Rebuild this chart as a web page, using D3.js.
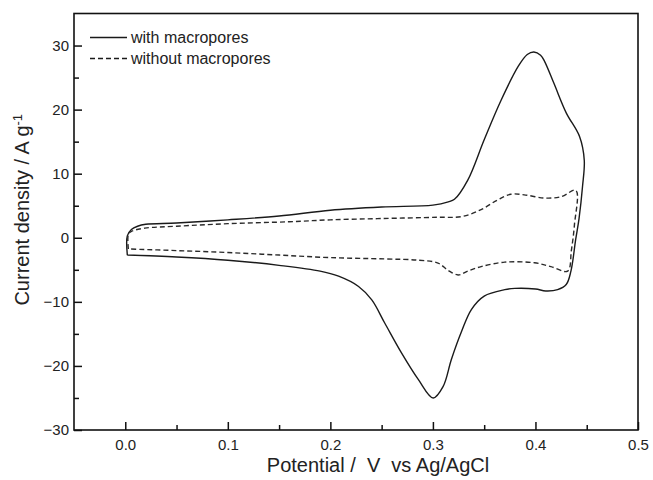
<!DOCTYPE html>
<html>
<head>
<meta charset="utf-8">
<script src="https://cdn.jsdelivr.net/npm/d3@7"></script>
<style>
  body { margin: 0; background: #fff; }
  svg { display: block; font-family: Arial, "Liberation Sans", sans-serif; }
  .axis path, .axis line { stroke: #111; }
  .axis text { font-size: 15px; fill: #222; }
  .title { white-space: pre; }
</style>
</head>
<body>
<div id="chart"></div>
<script>
// potential (V) and current density (A/g), one loop each
var withV = [0.002, 0.002, 0.006, 0.012, 0.02, 0.05, 0.1, 0.15, 0.2, 0.25, 0.3, 0.315, 0.321, 0.334, 0.35, 0.3666, 0.383, 0.392, 0.3985, 0.405, 0.409, 0.418, 0.43, 0.443, 0.4476,
             0.4459, 0.4425, 0.4392, 0.4346, 0.43, 0.4216, 0.41, 0.4, 0.38, 0.37, 0.35, 0.3375, 0.328, 0.318, 0.31, 0.3003, 0.2857, 0.2695, 0.253, 0.2404, 0.2275, 0.208, 0.19, 0.15, 0.1, 0.05, 0.002];
var withI = [-2.7, 0.3, 1.3, 1.8, 2.1, 2.3, 2.8, 3.4, 4.3, 4.8, 5.1, 5.6, 6.0, 9.0, 15.3, 21.5, 26.7, 28.6, 29.0, 28.5, 27.5, 24.1, 19.5, 15.8, 12.1,
             8, 3, -0.3, -5.2, -7.3, -8.1, -8.3, -8.0, -7.9, -8.1, -9.1, -11.2, -14.6, -19, -23.2, -25.0, -22.1, -18.0, -13.3, -9.7, -7.6, -6.0, -5.2, -4.3, -3.5, -3.0, -2.7];

var withoutV = [0.003, 0.003, 0.006, 0.019, 0.05, 0.1, 0.16, 0.2, 0.25, 0.305, 0.328, 0.347, 0.363, 0.376, 0.389, 0.409, 0.425, 0.4394,
                0.438, 0.435, 0.4314, 0.415, 0.399, 0.37, 0.347, 0.334, 0.3245, 0.315, 0.305, 0.286, 0.253, 0.2, 0.15, 0.1, 0.05, 0.003];
var withoutI = [-1.75, 0.5, 1.0, 1.5, 1.8, 2.2, 2.5, 2.8, 3.0, 3.2, 3.3, 4.4, 5.9, 6.8, 6.7, 6.2, 6.4, 7.4,
                2, -2, -5.2, -4.5, -3.9, -3.8, -4.5, -5.2, -5.8, -5.1, -3.95, -3.5, -3.3, -3.1, -2.7, -2.3, -2.0, -1.75];

var xTicks = [0, 0.1, 0.2, 0.3, 0.4, 0.5];
var xMinor = [0.05, 0.15, 0.25, 0.35, 0.45];
var yTicks = [-30, -20, -10, 0, 10, 20, 30];
var yMinor = [-25, -15, -5, 5, 15, 25];
var legendLabels = ['with macropores', 'without macropores'];

var margin = {top: 13.5, right: 15, bottom: 50, left: 74},
    width = 638 - margin.left,
    height = 430 - margin.top;

var x = d3.scaleLinear().domain([-0.05, 0.5]).range([0, width]),
    y = d3.scaleLinear().domain([-30, 35]).range([height, 0]);

var svg = d3.select('#chart')
            .append('svg')
            .attr('width', 653)
            .attr('height', 480)
            .append('g')
            .attr('transform', 'translate(' + margin.left + ',' + margin.top + ')');

// minor ticks first, then the labelled ones
svg.append('g')
   .attr('class', 'x axis')
   .attr('transform', 'translate(0,' + height + ')')
   .call(d3.axisBottom(x).tickValues(xMinor).tickSize(-5).tickFormat(''))
   .select('.domain').remove();

svg.append('g')
   .attr('class', 'x axis')
   .attr('transform', 'translate(0,' + height + ')')
   .call(d3.axisBottom(x).tickValues(xTicks).tickSize(-8).tickSizeOuter(0).tickPadding(9).tickFormat(d3.format('.1f')))
   .select('.domain').remove();

svg.append('g')
   .attr('class', 'y axis')
   .call(d3.axisLeft(y).tickValues(yMinor).tickSize(-5).tickFormat(''))
   .select('.domain').remove();

svg.append('g')
   .attr('class', 'y axis')
   .call(d3.axisLeft(y).tickValues(yTicks).tickSize(-8).tickSizeOuter(0).tickPadding(5))
   .select('.domain').remove();

svg.selectAll('.axis line').attr('stroke-width', 1.5);

svg.append('rect')
   .attr('width', width)
   .attr('height', height)
   .attr('fill', 'none')
   .attr('stroke', '#111')
   .attr('stroke-width', 1.6);

var line = d3.line()
             .x(function(d) { return x(d[0]); })
             .y(function(d) { return y(d[1]); })
             .curve(d3.curveCatmullRom.alpha(0.5));

svg.append('path')
   .datum(d3.zip(withV, withI))
   .attr('fill', 'none')
   .attr('stroke', '#1a1a1a')
   .attr('stroke-width', 1.4)
   .attr('d', line);

svg.append('path')
   .datum(d3.zip(withoutV, withoutI))
   .attr('fill', 'none')
   .attr('stroke', '#2a2a2a')
   .attr('stroke-width', 1.4)
   .attr('stroke-dasharray', '5,3')
   .attr('d', line);

// legend
var legend = svg.selectAll('.legend')
                .data(legendLabels)
                .enter()
                .append('g')
                .attr('class', 'legend')
                .attr('transform', function(d, i) { return 'translate(16,' + (24 + i * 21) + ')'; });

legend.append('line')
      .attr('x1', 0)
      .attr('x2', 37)
      .attr('stroke', '#1a1a1a')
      .attr('stroke-width', 1.3)
      .attr('stroke-dasharray', function(d, i) { return i ? '5,3' : null; });

legend.append('text')
      .attr('x', 41)
      .attr('dy', '.35em')
      .style('font-size', '16px')
      .attr('fill', '#222')
      .text(function(d) { return d; });

// axis titles
svg.append('text')
   .attr('class', 'title')
   .attr('x', width / 2 + 22)
   .attr('y', height + 42)
   .attr('text-anchor', 'middle')
   .style('font-size', '20px')
   .attr('fill', '#222')
   .text('Potential /  V  vs Ag/AgCl');

var yTitle = svg.append('text')
                .attr('class', 'title')
                .attr('transform', 'translate(-45,' + (y(0) - 28) + ') rotate(-90)')
                .attr('text-anchor', 'middle')
                .style('font-size', '20px')
                .attr('fill', '#222');

yTitle.append('tspan').text('Current density / A g');
yTitle.append('tspan').attr('dy', '-0.55em').style('font-size', '13px').text('-1');
</script>
</body>
</html>
